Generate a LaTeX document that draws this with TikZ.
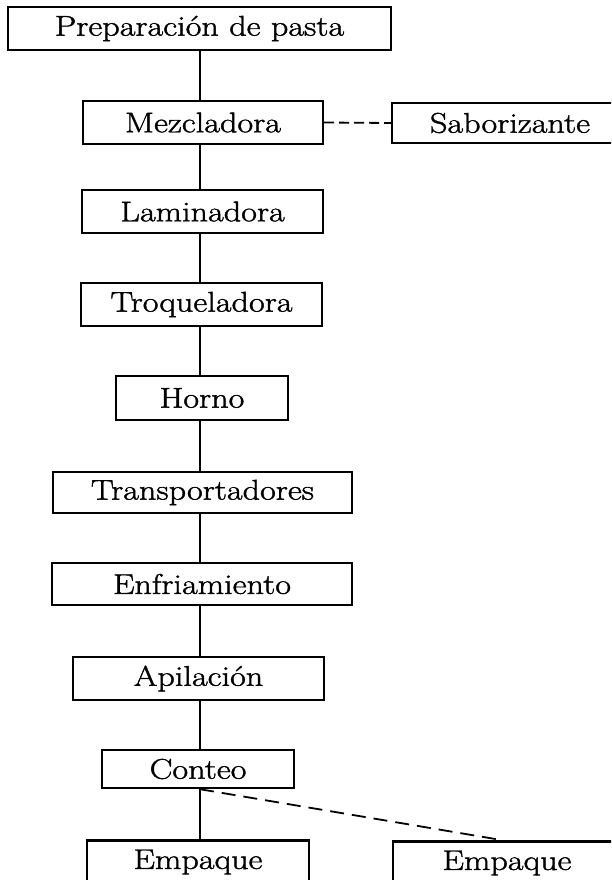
\documentclass[tikz,border=0pt]{standalone}
\usepackage{fontspec}
\setmainfont{Latin Modern Roman}[FakeStretch=1.2,FakeBold=1.4]
\begin{document}
\begin{tikzpicture}[x=1pt,y=-1pt,
  procbox/.style={draw,line width=2.4pt,inner sep=0pt,font=\fontsize{28.5}{31}\selectfont},
  link/.style={line width=1.8pt},
  dlink/.style={line width=1.8pt,dash pattern=on 10pt off 5pt},
  dlinklong/.style={line width=1.8pt,dash pattern=on 14pt off 8pt}]
\useasboundingbox (0,0) rectangle (611,880);
\clip (0,0) rectangle (611,880);
\coordinate (tk) at (200,0);
\node[procbox,minimum width=383pt,minimum height=43pt] (prep) at (199.5,28.5) {Preparación de pasta};
\node[procbox,minimum width=240pt,minimum height=43pt] (mezc) at (203,122.5) {Mezcladora};
\node[procbox,minimum width=236pt,minimum height=40pt] (sabor) at (510,123) {Saborizante};
\node[procbox,minimum width=241pt,minimum height=43pt] (lamin) at (202.5,211.5) {Laminadora};
\node[procbox,minimum width=241pt,minimum height=43pt] (troq) at (201.5,304.5) {Troqueladora};
\node[procbox,minimum width=172pt,minimum height=44pt] (horno) at (202,398) {Horno};
\node[procbox,minimum width=299pt,minimum height=41pt] (transp) at (202.5,492.5) {Transportadores};
\node[procbox,minimum width=300pt,minimum height=42pt] (enfr) at (202,584) {Enfriamiento};
\node[procbox,minimum width=251pt,minimum height=43pt] (apil) at (198.5,678.5) {Apilación};
\node[procbox,minimum width=192pt,minimum height=38pt] (conteo) at (198,769) {Conteo};
\node[procbox,minimum width=222pt,minimum height=43pt] (empa) at (198,862) {Empaque};
\node[procbox,minimum width=228pt,minimum height=43pt] (empb) at (507,863) {Empaque};
\draw[link] (prep.south -| tk) -- (mezc.north -| tk);
\draw[link] (mezc.south -| tk) -- (lamin.north -| tk);
\draw[link] (lamin.south -| tk) -- (troq.north -| tk);
\draw[link] (troq.south -| tk) -- (horno.north -| tk);
\draw[link] (horno.south -| tk) -- (transp.north -| tk);
\draw[link] (transp.south -| tk) -- (enfr.north -| tk);
\draw[link] (enfr.south -| tk) -- (apil.north -| tk);
\draw[link] (apil.south -| tk) -- (conteo.north -| tk);
\draw[link] (conteo.south -| tk) -- (empa.north -| tk);
\draw[dlink] (mezc.east) -- (sabor.west);
\draw[dlinklong] (conteo.south -| tk) -- ([xshift=-4pt]empb.north);
\end{tikzpicture}
\end{document}
